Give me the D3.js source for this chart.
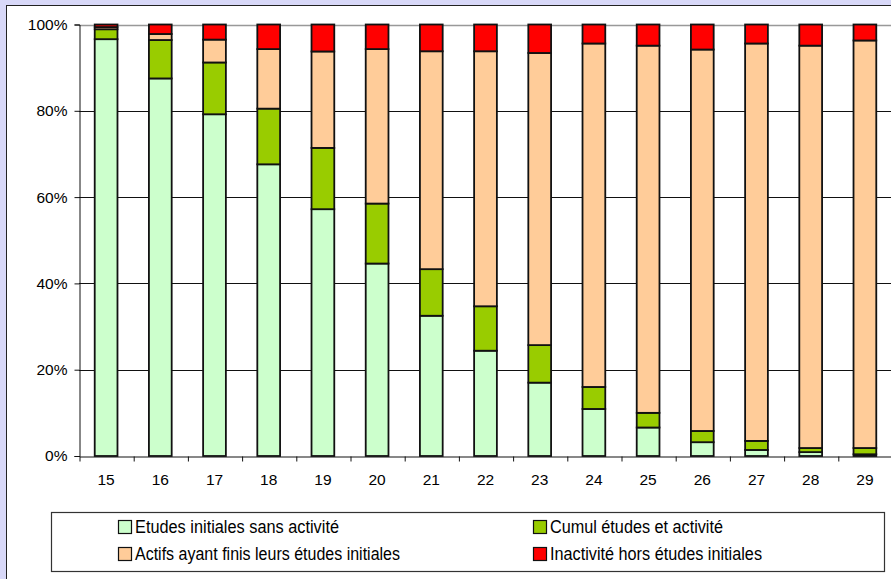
<!DOCTYPE html>
<html><head><meta charset="utf-8">
<script src="https://cdn.jsdelivr.net/npm/d3@7"></script>
<style>html,body{margin:0;padding:0;background:#d8d8f8;overflow:hidden}</style>
</head><body>
<svg id="c" width="891" height="579"></svg>
<script>
const ages = ["15","16","17","18","19","20","21","22","23","24","25","26","27","28","29"];
const etudesSansActivite = [96.6,87.5,79.2,67.6,57.2,44.6,32.5,24.4,17.0,10.9,6.6,3.2,1.4,0.9,0.4];
const cumulEtudesActivite = [2.3,8.9,12.0,12.9,14.2,13.9,10.8,10.3,8.7,5.1,3.4,2.6,2.1,0.95,1.45];
const actifsFinis = [0.5,1.4,5.3,13.8,22.35,35.8,50.5,59.1,67.7,79.6,85.1,88.4,92.1,93.25,94.45];
const inactivite = [0.6,2.2,3.5,5.7,6.25,5.7,6.2,6.2,6.6,4.4,4.9,5.8,4.4,4.9,3.7];
const seriesNames = ["Etudes initiales sans activité","Cumul études et activité","Actifs ayant finis leurs études initiales","Inactivité hors études initiales"];
const seriesColors = ["#ccffcc","#99cc00","#ffcc99","#ff0000"];
const yTicks = [0,20,40,60,80,100];

const keys = ["a","b","c","d"];
const rows = ages.map((age,i)=>({age, a:etudesSansActivite[i], b:cumulEtudesActivite[i], c:actifsFinis[i], d:inactivite[i]}));
const stacked = d3.stack().keys(keys)(rows);

const svg = d3.select("#c");
const W = 891, H = 579;
svg.append("rect").attr("x",0).attr("y",0).attr("width",W).attr("height",H).attr("fill","#d8d8f8");
svg.append("rect").attr("x",6.5).attr("y",5.5).attr("width",W+20).attr("height",H+20).attr("fill","#fff").attr("stroke","#222").attr("stroke-width",1);

const x0 = 79, x1 = 892, yTop = 24.5, yBot = 456;
const x = d3.scaleBand().domain(ages).range([x0,x1]).paddingInner(0.58).paddingOuter(0.29);
const y = d3.scaleLinear().domain([0,100]).range([yBot,yTop]);

// gridlines
svg.append("g").selectAll("line").data(yTicks.filter(t=>t>0)).join("line")
  .attr("x1",x0).attr("x2",W).attr("y1",d=>Math.round(y(d))+0.5).attr("y2",d=>Math.round(y(d))+0.5)
  .attr("stroke",d=>d===100?"#999":"#111").attr("stroke-width",d=>d===100?1.5:1);

// bars
svg.append("g").selectAll("g").data(stacked).join("g")
  .attr("fill",(d,i)=>seriesColors[i])
  .selectAll("rect").data(d=>d).join("rect")
  .attr("x",d=>x(d.data.age)).attr("width",x.bandwidth())
  .attr("y",d=>y(d[1])).attr("height",d=>Math.max(0,y(d[0])-y(d[1])))
  .attr("stroke","#111").attr("stroke-width",1.8);

// y axis
const yAxis = d3.axisLeft(y).tickValues(yTicks).tickFormat(d=>d+"%").tickSize(5).tickPadding(7);
const gy = svg.append("g").attr("transform",`translate(${x0+0.5},0)`).call(yAxis);
gy.select(".domain").attr("stroke","#111");
gy.selectAll(".tick line").attr("stroke","#111");
gy.selectAll("text").attr("font-family","Liberation Sans, Arial, sans-serif").attr("font-size",15.5).attr("fill","#000");

// x axis labels
const xAxis = d3.axisBottom(x).tickSize(0).tickPadding(17);
const gx = svg.append("g").attr("transform",`translate(0,${yBot+0.5})`).call(xAxis);
gx.select(".domain").remove();
gx.selectAll("text").attr("font-family","Liberation Sans, Arial, sans-serif").attr("font-size",15.5).attr("fill","#000");
// x axis line and boundary ticks
const xb = d3.scaleLinear().domain([0,ages.length]).range([x0,x1]);
const gxt = svg.append("g").attr("transform",`translate(0.5,${yBot+0.5})`)
  .call(d3.axisBottom(xb).ticks(ages.length).tickFormat("").tickSizeInner(5).tickSizeOuter(0));
gxt.select(".domain").attr("stroke","#111");
gxt.selectAll(".tick line").attr("stroke","#111");

// legend
const lg = svg.append("g");
lg.append("rect").attr("x",51.5).attr("y",512.5).attr("width",833).attr("height",59).attr("fill","#fff").attr("stroke","#333").attr("stroke-width",1.2);
const legPos = [[118,527,204],[533,527,173],[118,554,265],[533,554,212]];
seriesNames.forEach((name,i)=>{
  const [lx,ly,tl] = legPos[i];
  lg.append("rect").attr("x",lx+0.5).attr("y",ly-6.5).attr("width",13).attr("height",13)
    .attr("fill",seriesColors[i]).attr("stroke","#111").attr("stroke-width",1.2);
  lg.append("text").attr("x",lx+17).attr("y",ly).attr("dy","0.36em")
    .attr("font-family","Liberation Sans, Arial, sans-serif").attr("font-size",17.5)
    .attr("textLength",tl).attr("lengthAdjust","spacingAndGlyphs").attr("fill","#000").text(name);
});
</script>
</body></html>
